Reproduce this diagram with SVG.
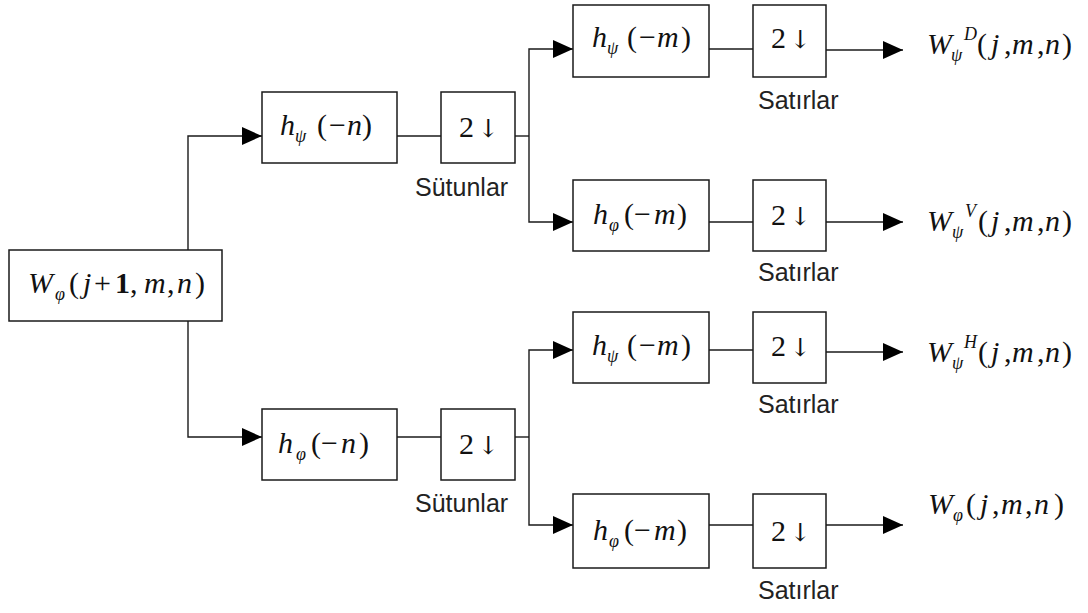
<svg xmlns="http://www.w3.org/2000/svg" width="1088" height="613" viewBox="0 0 1088 613">
<defs>
<style>
.box{fill:#fff;stroke:#1a1a1a;stroke-width:1.5}
.ln{fill:none;stroke:#1a1a1a;stroke-width:1.4}
.m{font-family:"Liberation Serif","DejaVu Serif",serif;font-size:30px;fill:#111}
.i{font-style:italic}
.s{font-size:18px;font-style:italic}
.b{font-weight:bold}
.ar{font-family:"DejaVu Serif","Liberation Serif",serif;font-size:25px}
.lab{font-family:"Liberation Sans",Arial,sans-serif;font-size:25px;fill:#222}
</style>
<marker id="ah" markerUnits="userSpaceOnUse" markerWidth="20" markerHeight="18" refX="20" refY="9" orient="auto">
<path d="M0,0 L20,9 L0,18 Z" fill="#000"/>
</marker>
</defs>
<rect width="1088" height="613" fill="#fff"/>

<g id="connectors">
<path class="ln" d="M188,250 V136 H262" marker-end="url(#ah)"/>
<path class="ln" d="M188,321 V437 H262" marker-end="url(#ah)"/>
<path class="ln" d="M397,136 H441"/>
<path class="ln" d="M515,136 H529"/>
<path class="ln" d="M529,136 V49 H573" marker-end="url(#ah)"/>
<path class="ln" d="M529,136 V222 H573" marker-end="url(#ah)"/>
<path class="ln" d="M397,437 H441"/>
<path class="ln" d="M515,437 H529"/>
<path class="ln" d="M529,437 V350 H573" marker-end="url(#ah)"/>
<path class="ln" d="M529,437 V525 H573" marker-end="url(#ah)"/>
<path class="ln" d="M709,49 H753"/>
<path class="ln" d="M709,222 H753"/>
<path class="ln" d="M709,350 H753"/>
<path class="ln" d="M709,525 H753"/>
<path class="ln" d="M826,50 H903" marker-end="url(#ah)"/>
<path class="ln" d="M826,222 H903" marker-end="url(#ah)"/>
<path class="ln" d="M826,352 H903" marker-end="url(#ah)"/>
<path class="ln" d="M826,525 H903" marker-end="url(#ah)"/>
</g>

<g id="input">
<rect class="box" x="9" y="250" width="213" height="71"/>
<text class="m" y="293"><tspan class="i" x="28">W</tspan><tspan class="s" x="55" dy="7">φ</tspan><tspan x="69" dy="-7">(</tspan><tspan class="i" x="83">j</tspan><tspan x="94">+</tspan><tspan class="b" x="115">1</tspan><tspan x="130">,</tspan><tspan class="i" x="144">m</tspan><tspan x="167">,</tspan><tspan class="i" x="177">n</tspan><tspan x="195">)</tspan></text>
</g>

<g id="col-hpsi">
<rect class="box" x="262" y="92" width="135" height="71"/>
<text class="m" y="135"><tspan class="i" x="280">h</tspan><tspan class="s" x="295" dy="7">ψ</tspan><tspan x="317" dy="-7">(</tspan><tspan x="329">−</tspan><tspan class="i" x="347">n</tspan><tspan x="362">)</tspan></text>
</g>
<g id="col-down1">
<rect class="box" x="441" y="92" width="74" height="71"/>
<text class="m" y="137"><tspan x="459">2</tspan><tspan class="ar" x="478">↓</tspan></text>
<text class="lab" x="415" y="196">Sütunlar</text>
</g>

<g id="col-hphi">
<rect class="box" x="262" y="409" width="135" height="71"/>
<text class="m" y="453"><tspan class="i" x="278">h</tspan><tspan class="s" x="296" dy="7">φ</tspan><tspan x="311" dy="-7">(</tspan><tspan x="321">−</tspan><tspan class="i" x="341">n</tspan><tspan x="359">)</tspan></text>
</g>
<g id="col-down2">
<rect class="box" x="441" y="409" width="74" height="71"/>
<text class="m" y="454"><tspan x="459">2</tspan><tspan class="ar" x="478">↓</tspan></text>
<text class="lab" x="415" y="512">Sütunlar</text>
</g>

<g id="row1-filter">
<rect class="box" x="573" y="5" width="136" height="72"/>
<text class="m" y="47"><tspan class="i" x="592">h</tspan><tspan class="s" x="607" dy="7">ψ</tspan><tspan x="627" dy="-7">(</tspan><tspan x="639">−</tspan><tspan class="i" x="657">m</tspan><tspan x="681">)</tspan></text>
</g>
<g id="row1-down">
<rect class="box" x="753" y="5" width="73" height="72"/>
<text class="m" y="48"><tspan x="771">2</tspan><tspan class="ar" x="790">↓</tspan></text>
<text class="lab" x="758" y="109">Satırlar</text>
</g>
<g id="out1">
<text class="m" y="54"><tspan class="i" x="927">W</tspan><tspan class="s" x="951" dy="7">ψ</tspan><tspan class="s" x="964" dy="-21">D</tspan><tspan x="977" dy="14">(</tspan><tspan class="i" x="991">j</tspan><tspan x="1004">,</tspan><tspan class="i" x="1012">m</tspan><tspan x="1037">,</tspan><tspan class="i" x="1045">n</tspan><tspan x="1062">)</tspan></text>
</g>

<g id="row2-filter">
<rect class="box" x="573" y="180" width="136" height="71"/>
<text class="m" y="224"><tspan class="i" x="593">h</tspan><tspan class="s" x="609" dy="7">φ</tspan><tspan x="624" dy="-7">(</tspan><tspan x="634">−</tspan><tspan class="i" x="654">m</tspan><tspan x="677">)</tspan></text>
</g>
<g id="row2-down">
<rect class="box" x="753" y="180" width="73" height="71"/>
<text class="m" y="225"><tspan x="771">2</tspan><tspan class="ar" x="790">↓</tspan></text>
<text class="lab" x="758" y="281">Satırlar</text>
</g>
<g id="out2">
<text class="m" y="231"><tspan class="i" x="927">W</tspan><tspan class="s" x="952" dy="7">ψ</tspan><tspan class="s" x="965" dy="-21">V</tspan><tspan x="978" dy="14">(</tspan><tspan class="i" x="991">j</tspan><tspan x="1004">,</tspan><tspan class="i" x="1012">m</tspan><tspan x="1037">,</tspan><tspan class="i" x="1045">n</tspan><tspan x="1062">)</tspan></text>
</g>

<g id="row3-filter">
<rect class="box" x="573" y="312" width="136" height="71"/>
<text class="m" y="355"><tspan class="i" x="592">h</tspan><tspan class="s" x="607" dy="7">ψ</tspan><tspan x="627" dy="-7">(</tspan><tspan x="639">−</tspan><tspan class="i" x="657">m</tspan><tspan x="681">)</tspan></text>
</g>
<g id="row3-down">
<rect class="box" x="753" y="312" width="73" height="71"/>
<text class="m" y="356"><tspan x="771">2</tspan><tspan class="ar" x="790">↓</tspan></text>
<text class="lab" x="758" y="413">Satırlar</text>
</g>
<g id="out3">
<text class="m" y="362"><tspan class="i" x="927">W</tspan><tspan class="s" x="952" dy="7">ψ</tspan><tspan class="s" x="964" dy="-21">H</tspan><tspan x="978" dy="14">(</tspan><tspan class="i" x="991">j</tspan><tspan x="1004">,</tspan><tspan class="i" x="1012">m</tspan><tspan x="1037">,</tspan><tspan class="i" x="1045">n</tspan><tspan x="1062">)</tspan></text>
</g>

<g id="row4-filter">
<rect class="box" x="573" y="494" width="136" height="74"/>
<text class="m" y="540"><tspan class="i" x="593">h</tspan><tspan class="s" x="609" dy="7">φ</tspan><tspan x="624" dy="-7">(</tspan><tspan x="634">−</tspan><tspan class="i" x="654">m</tspan><tspan x="677">)</tspan></text>
</g>
<g id="row4-down">
<rect class="box" x="753" y="494" width="73" height="74"/>
<text class="m" y="541"><tspan x="771">2</tspan><tspan class="ar" x="790">↓</tspan></text>
<text class="lab" x="758" y="599">Satırlar</text>
</g>
<g id="out4">
<text class="m" y="514"><tspan class="i" x="928">W</tspan><tspan class="s" x="953" dy="7">φ</tspan><tspan x="966" dy="-7">(</tspan><tspan class="i" x="980">j</tspan><tspan x="992">,</tspan><tspan class="i" x="1001">m</tspan><tspan x="1025">,</tspan><tspan class="i" x="1034">n</tspan><tspan x="1054">)</tspan></text>
</g>
</svg>
